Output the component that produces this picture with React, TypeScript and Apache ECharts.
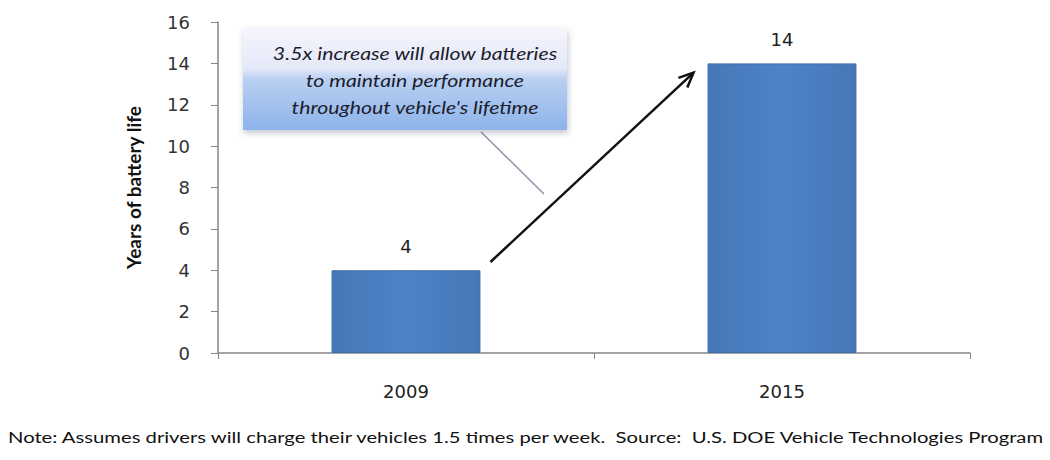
import React, { useEffect, useRef } from "react";
import * as echarts from "echarts";

// Battery life (years) by model year
const years = ["2009", "2015"];
const batteryLife = [4, 14];
const yTicks = { min: 0, max: 16, interval: 2 };

const calloutLines = [
  "3.5x increase will allow batteries",
  "to maintain performance",
  "throughout vehicle's lifetime",
];
const footnote =
  "Note: Assumes drivers will charge their vehicles 1.5 times per week.  Source:  U.S. DOE Vehicle Technologies Program";

const FONT = "Lato, 'Liberation Sans', sans-serif";
const NUM_FONT = "'DejaVu Sans', sans-serif";

export default function App() {
  const ref = useRef<HTMLDivElement>(null);

  useEffect(() => {
    if (!ref.current) return;
    const chart = echarts.init(ref.current, undefined, { renderer: "svg" });

    chart.setOption({
      animation: false,
      backgroundColor: "#ffffff",
      textStyle: { fontFamily: FONT },
      grid: { left: 218, right: 80, top: 22, bottom: 107 },
      xAxis: {
        type: "category",
        data: years,
        axisLine: { lineStyle: { color: "#868686", width: 1.5 } },
        axisTick: { show: true, length: 6, lineStyle: { color: "#868686" } },
        axisLabel: { color: "#222", fontSize: 18, margin: 29, fontFamily: NUM_FONT },
      },
      yAxis: {
        type: "value",
        min: yTicks.min,
        max: yTicks.max,
        interval: yTicks.interval,
        name: "Years of battery life",
        nameLocation: "middle",
        nameGap: 75,
        nameTextStyle: { color: "#111", fontSize: 19, fontWeight: "bold", fontFamily: FONT },
        axisLine: { show: true, lineStyle: { color: "#868686", width: 1.5 } },
        axisTick: { show: true, length: 7, lineStyle: { color: "#868686" } },
        axisLabel: { color: "#333", fontSize: 18, margin: 28, fontFamily: NUM_FONT },
        splitLine: { show: false },
      },
      series: [
        {
          type: "bar",
          data: batteryLife,
          barWidth: "39.6%",
          itemStyle: {
            color: {
              type: "linear",
              x: 0, y: 0, x2: 1, y2: 0,
              colorStops: [
                { offset: 0, color: "#4677b8" },
                { offset: 0.5, color: "#4e83c6" },
                { offset: 1, color: "#4677b8" },
              ],
            },
            borderColor: "#3f6eae",
            borderWidth: 1,
          },
          label: {
            show: true,
            position: "top",
            distance: 15,
            color: "#222",
            fontSize: 18,
            fontFamily: NUM_FONT,
          },
        },
      ],
    });

    // Annotation arrow from the top of the 2009 bar towards the 2015 bar
    const c0 = chart.convertToPixel({ xAxisIndex: 0 }, 0) as number;
    const c1 = chart.convertToPixel({ xAxisIndex: 0 }, 1) as number;
    const half = ((c1 - c0) * 0.396) / 2;
    const x0 = c0 + half + 10;
    const y0 = chart.convertToPixel({ yAxisIndex: 0 }, batteryLife[0] + 0.4) as number;
    const x1 = c1 - half - 14;
    const y1 = chart.convertToPixel({ yAxisIndex: 0 }, batteryLife[1] - 0.45) as number;
    const ang = Math.atan2(y1 - y0, x1 - x0);
    const head = 16;
    const spread = 0.42;
    const h1 = [x1 - head * Math.cos(ang - spread), y1 - head * Math.sin(ang - spread)];
    const h2 = [x1 - head * Math.cos(ang + spread), y1 - head * Math.sin(ang + spread)];

    const boxX = 243;
    const boxY = 28;
    const boxW = 324;
    const boxH = 102;

    chart.setOption({
      graphic: [
        {
          type: "line",
          shape: { x1: x0, y1: y0, x2: x1, y2: y1 },
          style: { stroke: "#111", lineWidth: 2.5 },
          z: 10,
        },
        {
          type: "polyline",
          shape: { points: [h1, [x1, y1], h2] },
          style: { stroke: "#111", lineWidth: 2.5, fill: "none" },
          z: 10,
        },
        // callout pointer
        {
          type: "line",
          shape: { x1: 481, y1: 132, x2: 544, y2: 194 },
          style: { stroke: "#8a93a8", lineWidth: 1.5 },
          z: 9,
        },
        // callout box
        {
          type: "rect",
          shape: { x: boxX, y: boxY, width: boxW, height: boxH },
          style: {
            fill: {
              type: "linear",
              x: 0, y: 0, x2: 0, y2: 1,
              colorStops: [
                { offset: 0, color: "#f6f5fc" },
                { offset: 0.4, color: "#e3e8f8" },
                { offset: 0.5, color: "#b9d0f2" },
                { offset: 1, color: "#8db3ea" },
              ],
            },
            shadowColor: "rgba(80,90,120,0.35)",
            shadowBlur: 6,
            shadowOffsetX: 1,
            shadowOffsetY: 3,
          },
          z: 10,
        },
        ...calloutLines.map((line, i) => ({
          type: "text",
          x: 415,
          y: 53 + i * 27,
          scaleX: 1.25,
          style: {
            text: line,
            fill: "#1c1c2c",
            font: `italic 17px ${FONT}`,
            textAlign: "center",
            textVerticalAlign: "middle",
          },
          z: 11,
        })),
        {
          type: "text",
          x: 8,
          y: 437,
          scaleX: 1.35,
          style: {
            text: footnote,
            fill: "#111",
            font: `15px ${FONT}`,
            textAlign: "left",
            textVerticalAlign: "middle",
          },
          z: 11,
        },
      ],
    });

    return () => chart.dispose();
  }, []);

  return (
    <div
      ref={ref}
      style={{ position: "absolute", left: 0, top: 0, width: 1050, height: 460 }}
    />
  );
}
